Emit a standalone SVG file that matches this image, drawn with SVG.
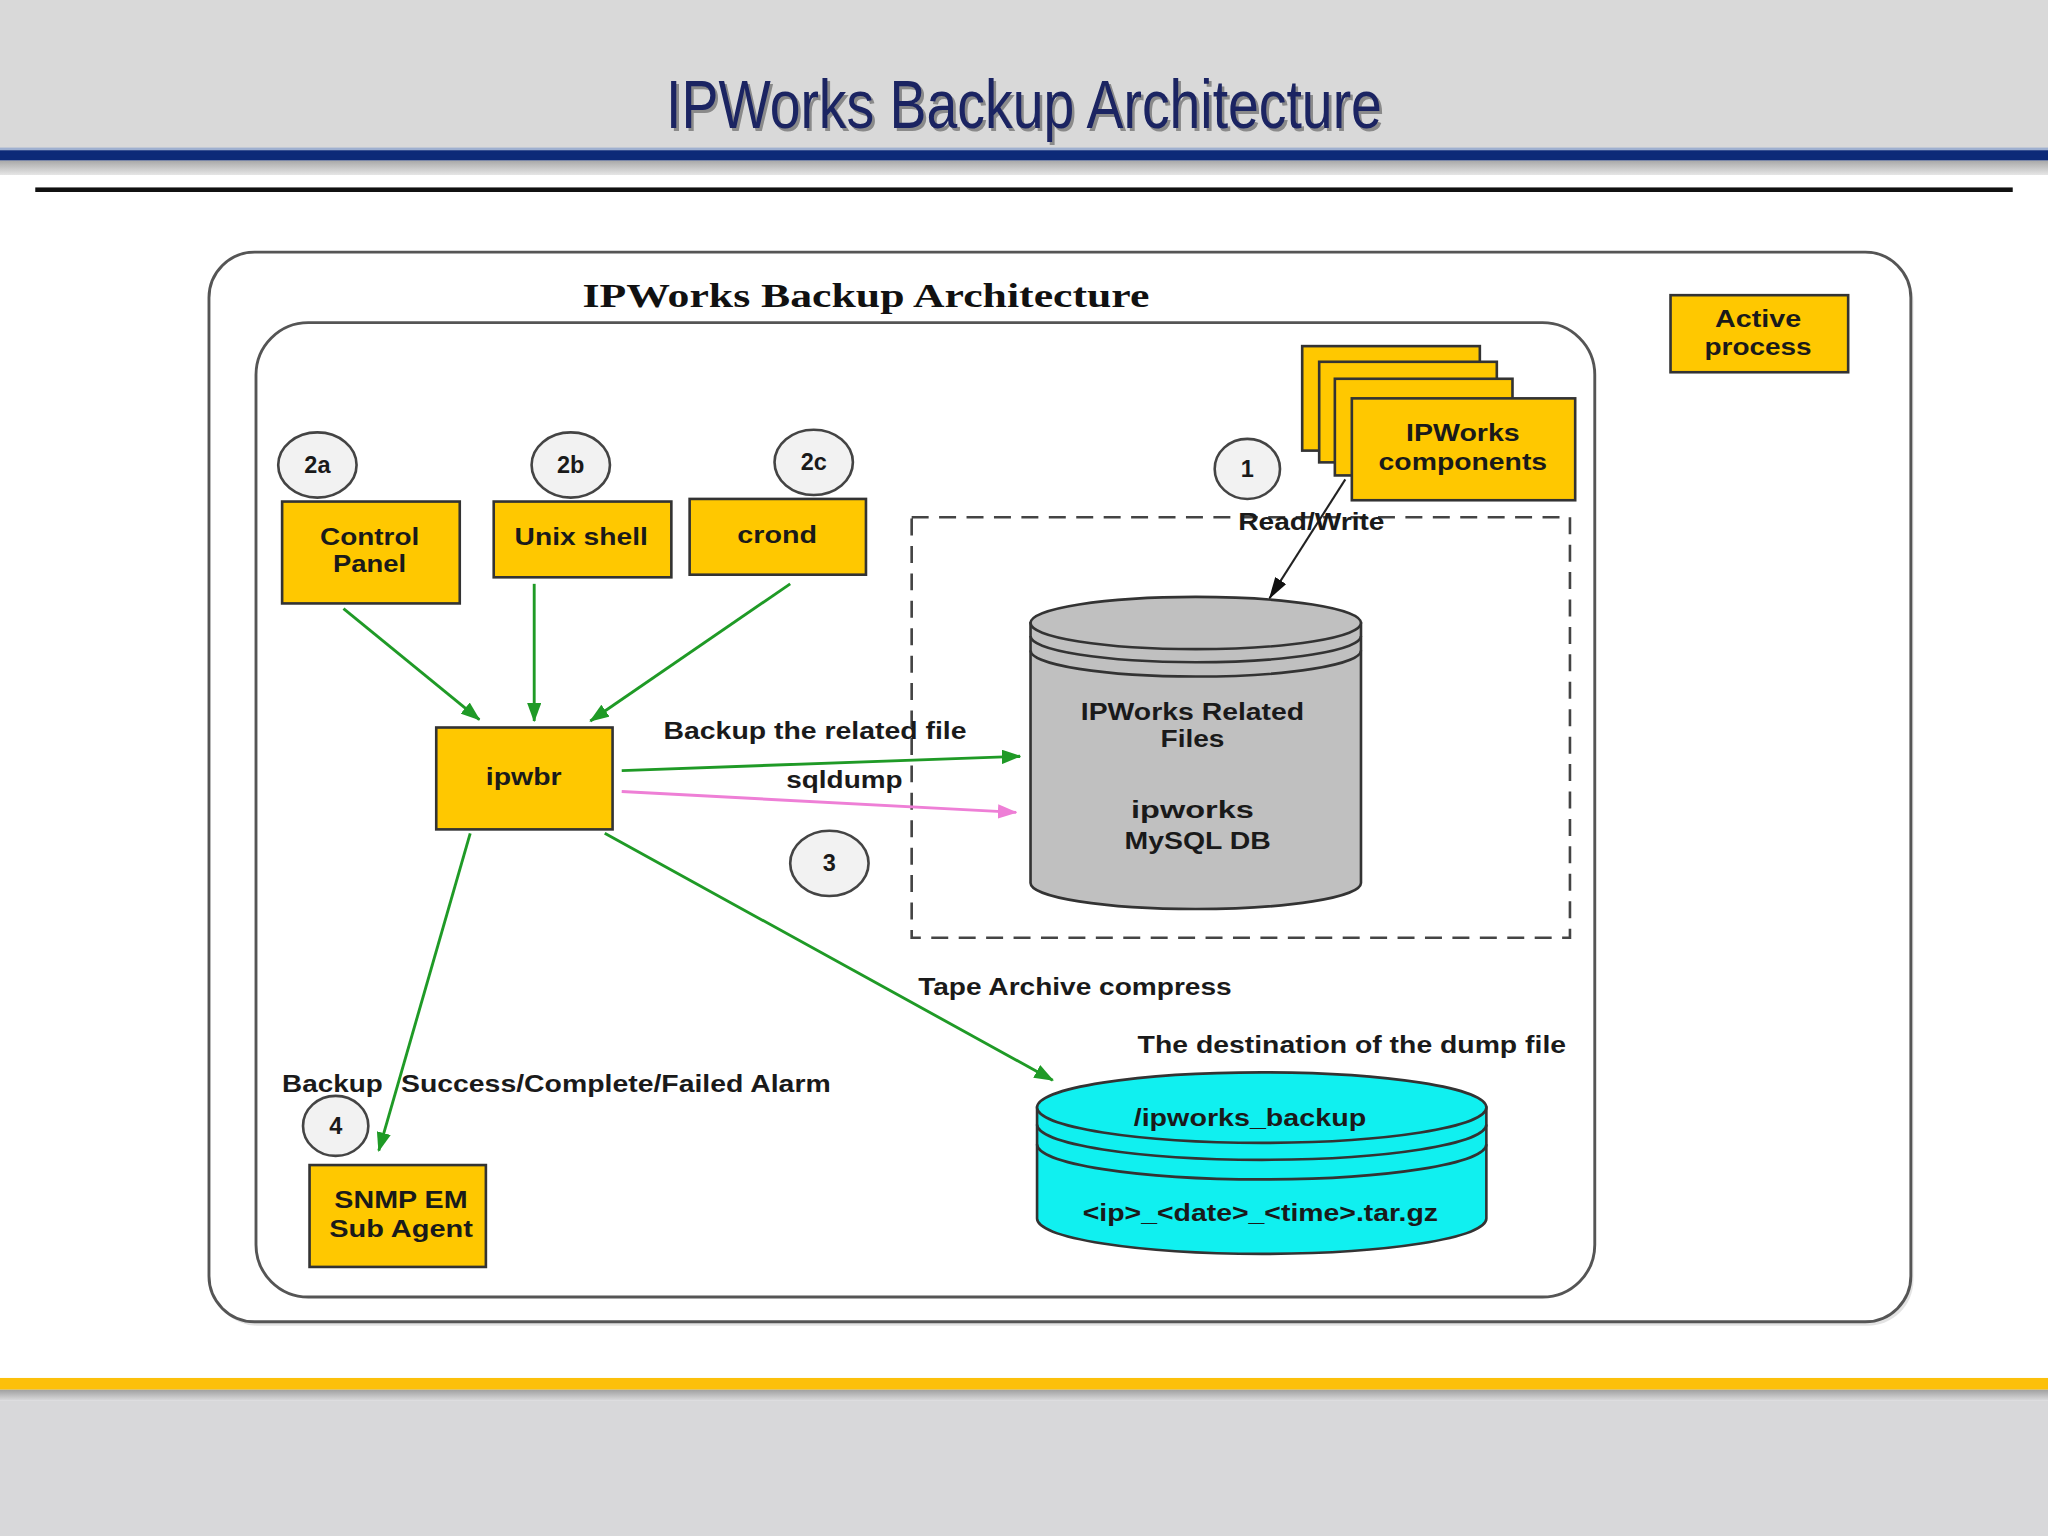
<svg xmlns="http://www.w3.org/2000/svg" width="2048" height="1536" viewBox="0 0 2048 1536">
<defs>
<linearGradient id="shTop" x1="0" y1="0" x2="0" y2="1"><stop offset="0" stop-color="#a9a9a9"/><stop offset="1" stop-color="#e6e6e6"/></linearGradient>
<linearGradient id="shBot" x1="0" y1="0" x2="0" y2="1"><stop offset="0" stop-color="#a0a0a0"/><stop offset="1" stop-color="#d8d8da"/></linearGradient>
<marker id="ag" markerUnits="userSpaceOnUse" markerWidth="15" markerHeight="11" refX="14" refY="5.5" orient="auto"><path d="M0,0 L15,5.5 L0,11 z" fill="#1f9a26"/></marker>
<marker id="ap" markerUnits="userSpaceOnUse" markerWidth="15" markerHeight="11" refX="14" refY="5.5" orient="auto"><path d="M0,0 L15,5.5 L0,11 z" fill="#ee7fd6"/></marker>
<marker id="ab" markerUnits="userSpaceOnUse" markerWidth="17" markerHeight="10" refX="16" refY="5" orient="auto"><path d="M0,0 L17,5 L0,10 z" fill="#111"/></marker>
</defs>
<style>
.lbl{font-family:"Liberation Sans",Arial,sans-serif;font-weight:bold;font-size:18px;fill:#1a1a1a;text-anchor:middle}
.txt{font-family:"Liberation Sans",Arial,sans-serif;font-weight:bold;font-size:18px;fill:#1a1a1a}
.box{fill:#ffc800;stroke:#333;stroke-width:2}
.circ{fill:#f2f2f2;stroke:#444;stroke-width:2}
.g{stroke:#1f9a26;stroke-width:2.2;fill:none;marker-end:url(#ag)}
.p{stroke:#ee7fd6;stroke-width:2.2;fill:none;marker-end:url(#ap)}
.frame{fill:#fff;stroke:#555;stroke-width:2.2}
</style>
<g transform="scale(1.306122)">
<!-- background -->
<rect x="0" y="0" width="1568" height="1176" fill="#ffffff"/>
<rect x="0" y="0" width="1568" height="115" fill="#d9d9d9"/>
<rect x="0" y="113" width="1568" height="2" fill="#9fb0d0"/>
<rect x="0" y="115" width="1568" height="8" fill="#0d2a78"/>
<rect x="0" y="123" width="1568" height="11" fill="url(#shTop)"/>
<rect x="27" y="143.5" width="1514" height="3.5" fill="#111"/>
<rect x="0" y="1055" width="1568" height="9" fill="#fcc00a"/>
<rect x="0" y="1064" width="1568" height="8" fill="url(#shBot)"/>
<rect x="0" y="1072" width="1568" height="104" fill="#d8d8da"/>
<text x="786" y="100" font-family="Liberation Sans,Arial,sans-serif" font-size="52" fill="#8a8a8a" text-anchor="middle" textLength="548" lengthAdjust="spacingAndGlyphs">IPWorks Backup Architecture</text>
<text x="784" y="98" font-family="Liberation Sans,Arial,sans-serif" font-size="52" fill="#1b2462" text-anchor="middle" textLength="548" lengthAdjust="spacingAndGlyphs">IPWorks Backup Architecture</text>

<!-- frames -->
<g id="outer-frame">
<rect x="162" y="196" width="1303" height="819" rx="35" fill="#d0d0d0" opacity="0.6"/>
<rect x="160" y="193" width="1303" height="819" rx="35" class="frame"/>
<text x="663" y="235" font-family="Liberation Serif,'Times New Roman',serif" font-weight="bold" font-size="25" fill="#111" text-anchor="middle" textLength="434" lengthAdjust="spacingAndGlyphs">IPWorks Backup Architecture</text>
</g>
<g id="inner-frame">
<rect x="196" y="247" width="1025" height="746" rx="40" class="frame"/>
</g>
<g id="dashed-region">
<rect x="698" y="396" width="504" height="322" fill="none" stroke="#444" stroke-width="2" stroke-dasharray="13,8"/>
</g>

<!-- nodes -->
<g id="active-process">
<rect x="1279" y="226" width="136" height="59" class="box"/>
<text x="1346" y="250" class="lbl" textLength="66" lengthAdjust="spacingAndGlyphs">Active</text>
<text x="1346" y="272" class="lbl" textLength="82" lengthAdjust="spacingAndGlyphs">process</text>
</g>
<g id="ipworks-components">
<rect x="997" y="265" width="136" height="80" class="box"/>
<rect x="1010" y="277" width="136" height="77" class="box"/>
<rect x="1022" y="290" width="136" height="74" class="box"/>
<rect x="1035" y="305" width="171" height="78" class="box"/>
<text x="1120" y="338" class="lbl" textLength="87" lengthAdjust="spacingAndGlyphs">IPWorks</text>
<text x="1120" y="360" class="lbl" textLength="129" lengthAdjust="spacingAndGlyphs">components</text>
</g>
<g id="c1"><ellipse cx="955" cy="359" rx="25" ry="23" class="circ"/><text x="955" y="365" class="lbl" font-size="17">1</text></g>
<g id="c2a"><ellipse cx="243" cy="356" rx="30" ry="25" class="circ"/><text x="243" y="362" class="lbl" font-size="17">2a</text></g>
<g id="c2b"><ellipse cx="437" cy="356" rx="30" ry="25" class="circ"/><text x="437" y="362" class="lbl" font-size="17">2b</text></g>
<g id="c2c"><ellipse cx="623" cy="354" rx="30" ry="25" class="circ"/><text x="623" y="360" class="lbl" font-size="17">2c</text></g>
<g id="c3"><ellipse cx="635" cy="661" rx="30" ry="25" class="circ"/><text x="635" y="667" class="lbl" font-size="17">3</text></g>
<g id="c4"><ellipse cx="257" cy="862" rx="25" ry="23" class="circ"/><text x="257" y="868" class="lbl" font-size="17">4</text></g>

<g id="control-panel">
<rect x="216" y="384" width="136" height="78" class="box"/>
<text x="283" y="417" class="lbl" textLength="76" lengthAdjust="spacingAndGlyphs">Control</text>
<text x="283" y="438" class="lbl" textLength="56" lengthAdjust="spacingAndGlyphs">Panel</text>
</g>
<g id="unix-shell">
<rect x="378" y="384" width="136" height="58" class="box"/>
<text x="445" y="417" class="lbl" textLength="102" lengthAdjust="spacingAndGlyphs">Unix shell</text>
</g>
<g id="crond">
<rect x="528" y="382" width="135" height="58" class="box"/>
<text x="595" y="416" class="lbl" textLength="61" lengthAdjust="spacingAndGlyphs">crond</text>
</g>
<g id="ipwbr">
<rect x="334" y="557" width="135" height="78" class="box"/>
<text x="401" y="601" class="lbl" textLength="58" lengthAdjust="spacingAndGlyphs">ipwbr</text>
</g>
<g id="snmp">
<rect x="237" y="892" width="135" height="78" class="box"/>
<text x="307" y="925" class="lbl" textLength="102" lengthAdjust="spacingAndGlyphs">SNMP EM</text>
<text x="307" y="947" class="lbl" textLength="110" lengthAdjust="spacingAndGlyphs">Sub Agent</text>
</g>
<g id="mysql-db">
<path d="M789,477 L789,676 A126.5,20 0 0 0 1042,676 L1042,477 Z" fill="#c0c0c0" stroke="#333" stroke-width="2"/>
<ellipse cx="915.5" cy="477" rx="126.5" ry="20" fill="#c0c0c0" stroke="#333" stroke-width="2"/>
<path d="M789,487 A126.5,20 0 0 0 1042,487 M789,498 A126.5,20 0 0 0 1042,498" fill="none" stroke="#333" stroke-width="2"/>
<text x="913" y="551" class="lbl" textLength="171" lengthAdjust="spacingAndGlyphs">IPWorks Related</text>
<text x="913" y="572" class="lbl" textLength="49" lengthAdjust="spacingAndGlyphs">Files</text>
<text x="913" y="626" class="lbl" font-size="20" textLength="94" lengthAdjust="spacingAndGlyphs">ipworks</text>
<text x="917" y="650" class="lbl" textLength="112" lengthAdjust="spacingAndGlyphs">MySQL DB</text>
</g>
<g id="backup-dest">
<path d="M794,848 L794,933 A172,27 0 0 0 1138,933 L1138,848 Z" fill="#10f0f0" stroke="#333" stroke-width="2"/>
<ellipse cx="966" cy="848" rx="172" ry="27" fill="#10f0f0" stroke="#333" stroke-width="2"/>
<path d="M794,861 A172,27 0 0 0 1138,861 M794,876 A172,27 0 0 0 1138,876" fill="none" stroke="#333" stroke-width="2"/>
<text x="957" y="862" class="lbl" textLength="178" lengthAdjust="spacingAndGlyphs">/ipworks_backup</text>
<text x="965" y="935" class="lbl" font-size="17" textLength="272" lengthAdjust="spacingAndGlyphs">&lt;ip&gt;_&lt;date&gt;_&lt;time&gt;.tar.gz</text>
</g>

<!-- connectors -->
<g id="connectors">
<line x1="263" y1="466" x2="367" y2="551" class="g"/>
<line x1="409" y1="447" x2="409" y2="552" class="g"/>
<line x1="605" y1="447" x2="452" y2="552" class="g"/>
<line x1="476" y1="590" x2="781" y2="579" class="g"/>
<line x1="476" y1="606" x2="778" y2="622" class="p"/>
<line x1="360" y1="638" x2="290" y2="881" class="g"/>
<line x1="463" y1="638" x2="806" y2="827" class="g"/>
<line x1="1030" y1="367" x2="972" y2="458" stroke="#222" stroke-width="1.6" marker-end="url(#ab)"/>
</g>

<!-- connector labels -->
<g id="labels">
<text x="1004" y="406" class="lbl" textLength="112" lengthAdjust="spacingAndGlyphs">Read/Write</text>
<text x="508" y="566" class="txt" textLength="232" lengthAdjust="spacingAndGlyphs">Backup the related file</text>
<text x="602" y="603" class="txt" textLength="89" lengthAdjust="spacingAndGlyphs">sqldump</text>
<text x="703" y="762" class="txt" textLength="240" lengthAdjust="spacingAndGlyphs">Tape Archive compress</text>
<text x="871" y="806" class="txt" textLength="328" lengthAdjust="spacingAndGlyphs">The destination of the dump file</text>
<text x="216" y="836" class="txt" textLength="77" lengthAdjust="spacingAndGlyphs">Backup</text>
<text x="307" y="836" class="txt" textLength="329" lengthAdjust="spacingAndGlyphs">Success/Complete/Failed Alarm</text>
</g>
</g>
</svg>
